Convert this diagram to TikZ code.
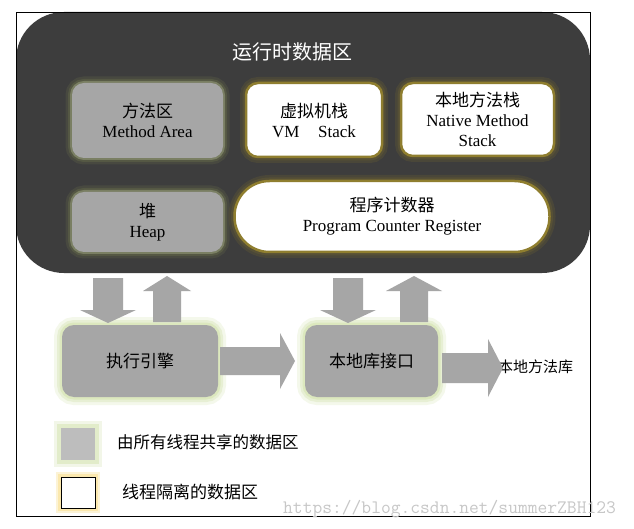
\documentclass[tikz,border=0pt]{standalone}
\usepackage{fontspec}
\setmainfont{Liberation Serif}
\newfontfamily\cjk{Noto Sans CJK SC}
\definecolor{darkbg}{HTML}{3D3D3D}
\definecolor{boxgray}{HTML}{A6A6A6}
\definecolor{goldline}{HTML}{8F7E2F}
\definecolor{goldglow}{HTML}{5F5634}
\definecolor{oliveglow}{HTML}{626848}
\definecolor{paleglow}{HTML}{DCE8BE}
\definecolor{yelglow}{HTML}{FBE8AE}
\definecolor{leggray}{HTML}{BDBDBD}
\newcommand\myvarrow[6]{\fill[boxgray] (#1-#5,#2) -- (#1+#5,#2) -- (#1+#5,#3) -- (#1+#6,#3) -- (#1,#4) -- (#1-#6,#3) -- (#1-#5,#3) -- cycle;}
\newcommand\myharrow[6]{\fill[boxgray] (#2,#1-#5) -- (#3,#1-#5) -- (#3,#1-#6) -- (#4,#1) -- (#3,#1+#6) -- (#3,#1+#5) -- (#2,#1+#5) -- cycle;}
\begin{document}
\begin{tikzpicture}[x=1pt,y=-1pt,
  box/.style={rectangle, rounded corners=12pt, inner sep=0pt, align=center,
    font=\fontsize{17}{20}\selectfont},
  sharedtop/.style={box, fill=boxgray,
    preaction={draw=oliveglow, line width=13pt, opacity=.3},
    preaction={draw=oliveglow, line width=8pt, opacity=.5},
    preaction={draw=oliveglow!85!white, line width=4pt}},
  privtop/.style={box, fill=white, draw=goldline, line width=2.5pt,
    preaction={draw=goldglow, line width=12pt, opacity=.4},
    preaction={draw=goldglow, line width=7pt, opacity=.6}},
  sharedlow/.style={box, fill=boxgray,
    preaction={draw=paleglow, line width=16pt, opacity=.3},
    preaction={draw=paleglow, line width=10pt, opacity=.5},
    preaction={draw=paleglow, line width=5pt}},
  lowtext/.style={font=\cjk\fontsize{17}{20}\selectfont}
]
\useasboundingbox (0,0) rectangle (634,529);
\fill[white] (0,0) rectangle (634,529);

% runtime data area
\node[rectangle, rounded corners=48pt, fill=darkbg, minimum width=574pt, minimum height=261pt, inner sep=0pt] (runtime) at (303,142.5) {};
\node[text=white, font=\cjk\fontsize{20}{22}\selectfont] (title) at (292,52) {运行时数据区};

\node[sharedtop, minimum width=151pt, minimum height=75pt] (method) at (147.5,120.5) {{\cjk 方法区}\\Method Area};
\node[privtop, minimum width=136pt, minimum height=74pt] (vmstack) at (314,120) {{\cjk 虚拟机栈}\\VM\hspace{1.1em}Stack};
\node[privtop, minimum width=153pt, minimum height=73pt] (native) at (477.5,119.5) {{\cjk 本地方法栈}\\Native Method\\Stack};
\node[sharedtop, minimum width=151pt, minimum height=60pt] (heap) at (147.5,222) {{\cjk 堆}\\Heap};
\node[privtop, rounded corners=35pt, minimum width=315pt, minimum height=71pt] (pc) at (392,216.5) {{\cjk 程序计数器}\\Program Counter Register};

% lower boxes
\node[sharedlow, minimum width=156pt, minimum height=72pt, lowtext] (engine) at (140,361) {执行引擎};
\node[sharedlow, minimum width=133pt, minimum height=72pt, lowtext] (nli) at (371.5,361) {本地库接口};
\node[anchor=west, inner sep=0pt, font=\cjk\fontsize{15}{17}\selectfont] (nlib) at (498,367) {本地方法库};

% block arrows
\myvarrow{108}{278}{310}{323}{15}{28}
\myvarrow{167}{322}{291}{276}{14}{24}
\myvarrow{348}{278}{310}{323}{15}{28}
\myvarrow{414}{322}{291}{276}{14}{28}
\myharrow{361}{220}{280}{295}{14}{28}
\myharrow{368}{442}{488}{503}{15}{29}

% legend
\node[rectangle, fill=leggray, minimum width=34pt, minimum height=32pt, inner sep=0pt,
  preaction={draw=paleglow, line width=14pt, opacity=.35},
  preaction={draw=paleglow, line width=8pt, opacity=.7}] (legshared) at (78,444) {};
\node[rectangle, fill=white, draw=black, line width=0.8pt, minimum width=34pt, minimum height=31pt, inner sep=0pt,
  preaction={draw=yelglow, line width=10pt, opacity=.5},
  preaction={draw=yelglow, line width=6pt}] (legpriv) at (78,492.5) {};
\node[anchor=west, inner sep=0pt, font=\cjk\fontsize{16.5}{18}\selectfont] (legsharedtxt) at (117,442) {由所有线程共享的数据区};
\node[anchor=west, inner sep=0pt, font=\cjk\fontsize{17}{19}\selectfont] (legprivtxt) at (122,492) {线程隔离的数据区};

% frame
\draw[black, line width=0.9pt] (16,12) rectangle (590,516);

% watermark
\node[anchor=west, inner sep=0pt, text=black!22, font=\ttfamily\fontsize{19}{19}\selectfont] (wm) at (283,509) {https://blog.csdn.net/summerZBH123};
\end{tikzpicture}
\end{document}
